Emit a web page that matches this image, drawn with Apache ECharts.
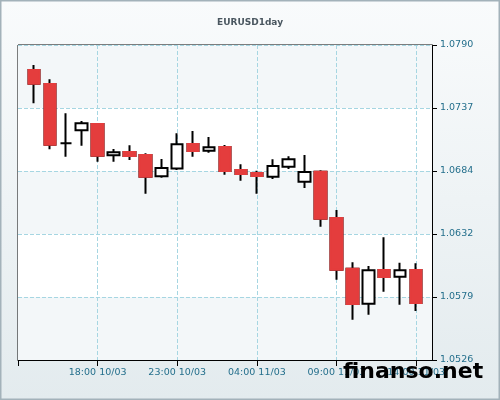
<!DOCTYPE html>
<html>
<head>
<meta charset="utf-8">
<script src="https://cdn.jsdelivr.net/npm/echarts@6/dist/echarts.min.js"></script>
<style>
  html, body { margin: 0; padding: 0; }
  #chart { width: 500px; height: 400px; }
</style>
</head>
<body>
<div id="chart"></div>
<script>
  // hourly slots, first and last are empty padding
  var hours = ['13:00 10/03', '14:00 10/03', '15:00 10/03', '16:00 10/03', '17:00 10/03', '18:00 10/03',
    '19:00 10/03', '20:00 10/03', '21:00 10/03', '22:00 10/03', '23:00 10/03', '00:00 11/03',
    '01:00 11/03', '02:00 11/03', '03:00 11/03', '04:00 11/03', '05:00 11/03', '06:00 11/03',
    '07:00 11/03', '08:00 11/03', '09:00 11/03', '10:00 11/03', '11:00 11/03', '12:00 11/03',
    '13:00 11/03', '14:00 11/03', '15:00 11/03']

  var opens  = [1.07690, 1.07573, 1.07076, 1.07185, 1.07238, 1.06976, 1.07003, 1.06978, 1.06800, 1.06865,
    1.07070, 1.07014, 1.07045, 1.06852, 1.06827, 1.06796, 1.06880, 1.06754, 1.06838, 1.06450,
    1.06025, 1.05732, 1.06014, 1.05958, 1.06014]
  var closes = [1.07576, 1.07064, 1.07076, 1.07244, 1.06972, 1.07001, 1.06970, 1.06796, 1.06869, 1.07069,
    1.07012, 1.07043, 1.06844, 1.06819, 1.06802, 1.06886, 1.06942, 1.06836, 1.06444, 1.06017,
    1.05729, 1.06012, 1.05956, 1.06012, 1.05738]
  var lows   = [1.07411, 1.07026, 1.06964, 1.07056, 1.06922, 1.06922, 1.06936, 1.06653, 1.06788, 1.06852,
    1.06964, 1.06997, 1.06813, 1.06763, 1.06653, 1.06777, 1.06861, 1.06701, 1.06377, 1.05933,
    1.05598, 1.05640, 1.05833, 1.05724, 1.05671]
  var highs  = [1.07732, 1.07613, 1.07328, 1.07263, 1.07244, 1.07028, 1.07059, 1.06992, 1.06945, 1.07160,
    1.07179, 1.07129, 1.07062, 1.06900, 1.06847, 1.06942, 1.06967, 1.06978, 1.06850, 1.06517,
    1.06079, 1.06048, 1.06288, 1.06076, 1.06071]

  var yMin = 1.0526
  var yMax = 1.0790
  var yStep = 0.00528

  var candles = ['-']
  var redBodies = ['-']
  for (var i = 0; i < opens.length; i++) {
    candles.push([opens[i], closes[i], lows[i], highs[i]])
    if (closes[i] < opens[i]) {
      redBodies.push([opens[i], closes[i], closes[i], opens[i]])
    } else {
      redBodies.push('-')
    }
  }
  candles.push('-')
  redBodies.push('-')

  var red = '#e43d3d'
  var labelColor = '#246f8c'
  var gridColor = '#a6d6e2'

  var chart = echarts.init(document.getElementById('chart'))
  chart.setOption({
    animation: false,
    backgroundColor: new echarts.graphic.LinearGradient(0, 0, 0, 1, [
      {offset: 0, color: '#f9fbfc'},
      {offset: 1, color: '#e3ebee'}
    ]),
    title: {
      text: 'EURUSD1day',
      left: 'center',
      top: 13,
      textStyle: {
        fontFamily: 'DejaVu Sans',
        fontSize: 9,
        fontWeight: 'bold',
        color: '#4a5760'
      }
    },
    grid: {
      left: 18,
      right: 68,
      top: 45,
      bottom: 40,
      show: true,
      borderColor: '#000',
      borderWidth: 1,
      backgroundColor: 'transparent'
    },
    xAxis: {
      type: 'category',
      data: hours,
      boundaryGap: false,
      axisLine: {lineStyle: {color: '#000', width: 1}},
      axisTick: {
        length: 6,
        interval: function (idx) { return idx % 5 === 0 },
        lineStyle: {color: '#000'}
      },
      axisLabel: {
        interval: function (idx) { return idx % 5 === 0 && idx > 0 },
        margin: 8,
        color: labelColor,
        fontFamily: 'DejaVu Sans',
        fontSize: 9.5
      },
      splitLine: {
        show: true,
        interval: function (idx) { return idx % 5 === 0 && idx > 0 },
        lineStyle: {color: gridColor, type: 'dashed', width: 1}
      }
    },
    yAxis: {
      type: 'value',
      position: 'right',
      min: yMin,
      max: yMax,
      interval: yStep,
      scale: true,
      axisLine: {show: true, lineStyle: {color: '#000', width: 1}},
      axisTick: {show: true, length: 5, lineStyle: {color: '#000'}},
      axisLabel: {
        margin: 8,
        color: labelColor,
        fontFamily: 'DejaVu Sans',
        fontSize: 9.5,
        formatter: function (v) { return v.toFixed(4) }
      },
      splitLine: {
        show: true,
        lineStyle: {color: gridColor, type: 'dashed', width: 1}
      },
      splitArea: {
        show: true,
        areaStyle: {color: ['#f3f7f9', '#ffffff']}
      }
    },
    series: [
      {
        type: 'candlestick',
        data: candles,
        barWidth: 12,
        itemStyle: {
          color: '#fff',
          color0: red,
          borderColor: '#000',
          borderColor0: '#000',
          borderWidth: 2
        }
      },
      {
        type: 'candlestick',
        data: redBodies,
        barWidth: 12,
        itemStyle: {
          color: red,
          color0: red,
          borderColor: red,
          borderColor0: red,
          borderWidth: 2
        }
      }
    ],
    graphic: [
      {
        type: 'rect',
        shape: {x: 0.5, y: 0.5, width: 499, height: 399},
        style: {fill: 'none', stroke: '#a3b2ba', lineWidth: 2},
        silent: true
      },
      {
        type: 'text',
        left: 343,
        top: 361,
        z: 100,
        style: {
          text: 'finanso.net',
          font: 'bold 22px "DejaVu Sans"',
          fill: '#000'
        }
      }
    ]
  })
</script>
</body>
</html>
